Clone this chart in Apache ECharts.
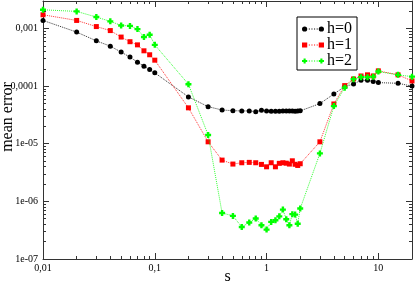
<!DOCTYPE html>
<html>
<head>
<meta charset="utf-8">
<script src="https://cdn.jsdelivr.net/npm/echarts@6/dist/echarts.min.js"></script>
<style>
html,body{margin:0;padding:0;background:#fff;}
#chart{width:415px;height:284px;}
</style>
</head>
<body>
<div id="chart"></div>
<script>
var sValues = [0.01,0.02,0.03,0.04,0.05,0.06,0.07,0.08,0.09,0.1,0.2,0.3,0.4,0.5,0.6,0.7,0.8,0.9,1.0,1.1,1.2,1.3,1.4,1.5,1.6,1.7,1.8,1.9,2.0,3,4,5,6,7,8,9,10,15,20];
var h0 = [1.38e-3,8.66e-4,6.1e-4,4.94e-4,3.89e-4,3.19e-4,2.6e-4,2.22e-4,1.94e-4,1.7e-4,6.5e-5,4.4e-5,3.85e-5,3.75e-5,3.71e-5,3.71e-5,3.6e-5,3.81e-5,3.71e-5,3.68e-5,3.68e-5,3.68e-5,3.7e-5,3.7e-5,3.7e-5,3.7e-5,3.68e-5,3.7e-5,3.72e-5,4.97e-5,7.3e-5,9.8e-5,1.09e-4,1.26e-4,1.26e-4,1.2e-4,1.15e-4,1.12e-4,1.0e-4];
var h1 = [1.73e-3,1.38e-3,1.08e-3,9.2e-4,7.1e-4,5.9e-4,5.2e-4,4.1e-4,3.5e-4,2.82e-4,4.2e-5,1.08e-5,5.2e-6,4.44e-6,4.68e-6,4.75e-6,4.68e-6,4.38e-6,3.98e-6,4.68e-6,3.98e-6,4.57e-6,4.68e-6,4.6e-6,4.44e-6,5.06e-6,4.4e-6,4.2e-6,4.5e-6,1.08e-5,4.9e-5,1.02e-4,1.33e-4,1.5e-4,1.57e-4,1.5e-4,1.84e-4,1.57e-4,1.23e-4];
var h2 = [2.11e-3,1.98e-3,1.58e-3,1.33e-3,1.13e-3,1.11e-3,9.77e-4,7.1e-4,7.77e-4,5.2e-4,1.08e-4,1.42e-5,6.3e-7,5.6e-7,3.6e-7,4.3e-7,5.05e-7,3.86e-7,3.24e-7,4.4e-7,4.7e-7,5.5e-7,7.2e-7,4.9e-7,3.86e-7,6.0e-7,5.9e-7,4.1e-7,7.5e-7,6.8e-6,4.5e-5,9.4e-5,1.32e-4,1.43e-4,1.43e-4,1.46e-4,1.79e-4,1.57e-4,1.46e-4];
var seriesNames = ['h=0','h=1','h=2'];
var xTickValues = [0.01,0.1,1,10];
var xTickLabels = ['0,01','0,1','1','10'];
var yTickValues = [1e-7,1e-6,1e-5,1e-4,1e-3];
var yTickLabels = ['1e-07','1e-06','1e-05','0,0001','0,001'];
var xMin = 0.01, xMax = 20, yMin = 1e-7, yMax = 3e-3;

function pairs(xs, ys){ return xs.map(function(x,i){ return [x, ys[i]]; }); }
function labelFor(vals, labels){
  return function(v){
    for (var i = 0; i < vals.length; i++){
      if (Math.abs(Math.log10(v) - Math.log10(vals[i])) < 1e-6) return labels[i];
    }
    return '';
  };
}

var AX = '#333';
var FONT = 'Liberation Serif';

function logAxis(pos, min, max, extra){
  var a = {
    type: 'log', logBase: 10, position: pos, min: min, max: max,
    axisLine: { show: true, onZero: false, lineStyle: { color: AX, width: 1 } },
    axisTick: { show: true, inside: true, length: 6, lineStyle: { color: AX, width: 1 } },
    minorTick: { show: true, splitNumber: 9, length: 3, lineStyle: { color: AX, width: 1 } },
    axisLabel: { show: false },
    splitLine: { show: false },
    minorSplitLine: { show: false }
  };
  for (var k in extra) a[k] = extra[k];
  return a;
}

var xAxes = [
  logAxis('bottom', xMin, xMax, {
    name: 's', nameLocation: 'middle', nameGap: 10, nameMoveOverlap: false,
    nameTextStyle: { fontFamily: FONT, fontSize: 16, color: '#000' },
    axisLabel: { show: true, margin: 4, fontFamily: FONT, fontSize: 10, color: '#000', formatter: labelFor(xTickValues, xTickLabels) }
  }),
  logAxis('top', xMin, xMax, {})
];
var yAxes = [
  logAxis('left', yMin, yMax, {
    axisLabel: { show: true, margin: 5, fontFamily: FONT, fontSize: 10, color: '#000', formatter: labelFor(yTickValues, yTickLabels) }
  }),
  logAxis('right', yMin, yMax, {})
];

var plusPath = 'path://M1.5,0H3.5V1.5H5V3.5H3.5V5H1.5V3.5H0V1.5H1.5Z';
var dotsMid = 'M7,2.6h1v0.8h-1ZM9.5,2.6h1v0.8h-1ZM12,2.6h1v0.8h-1ZM14.5,2.6h1v0.8h-1Z';
var legendIcons = [
  'path://M0.5,3a2.5,2.5 0 1,0 5,0a2.5,2.5 0 1,0 -5,0Z' + dotsMid + 'M16.5,3a2.5,2.5 0 1,0 5,0a2.5,2.5 0 1,0 -5,0Z',
  'path://M0.5,0.5h5v5h-5Z' + dotsMid + 'M16.5,0.5h5v5h-5Z',
  'path://M2,0.5h2v1.5h1.5v2h-1.5v1.5h-2v-1.5h-1.5v-2h1.5Z' + dotsMid + 'M18,0.5h2v1.5h1.5v2h-1.5v1.5h-2v-1.5h-1.5v-2h1.5Z'
];
var colors = ['#000000', '#ff0000', '#00ff00'];
var symbols = ['circle', 'rect', plusPath];
var sizes = [5, 5, 6];
var datasets = [h0, h1, h2];

var series = datasets.map(function(d, i){
  return {
    name: seriesNames[i], type: 'line', xAxisIndex: 0, yAxisIndex: 0,
    data: pairs(sValues, d),
    symbol: symbols[i], symbolSize: sizes[i], showSymbol: true, clip: false,
    itemStyle: { color: colors[i] },
    lineStyle: { color: colors[i], width: 1, type: 'dotted', opacity: 0.8 },
    z: 3 + i
  };
});

var chart = echarts.init(document.getElementById('chart'), null, { renderer: 'canvas' });
chart.setOption({
  animation: false,
  backgroundColor: '#fff',
  grid: { left: 43, right: 3, top: 1, bottom: 25, containLabel: false, outerBoundsMode: 'none' },
  xAxis: xAxes,
  yAxis: yAxes,
  legend: {
    orient: 'vertical', left: 297, top: 17,
    data: seriesNames.map(function(n, i){ return { name: n, icon: legendIcons[i] }; }),
    itemWidth: 22, itemHeight: 6, itemGap: 0,
    padding: [4, 5, 1, 5],
    borderColor: '#000', borderWidth: 1, backgroundColor: '#fff',
    textStyle: { fontFamily: FONT, fontSize: 16, color: '#000', lineHeight: 15, padding: [0, 0, 0, -2] },
    selectedMode: false
  },
  graphic: [{
    type: 'text', x: 8, y: 117, rotation: Math.PI / 2,
    style: { text: 'mean error', fontFamily: FONT, fontSize: 16, fill: '#000', align: 'center', verticalAlign: 'middle' }
  }],
  series: series
});
</script>
</body>
</html>
